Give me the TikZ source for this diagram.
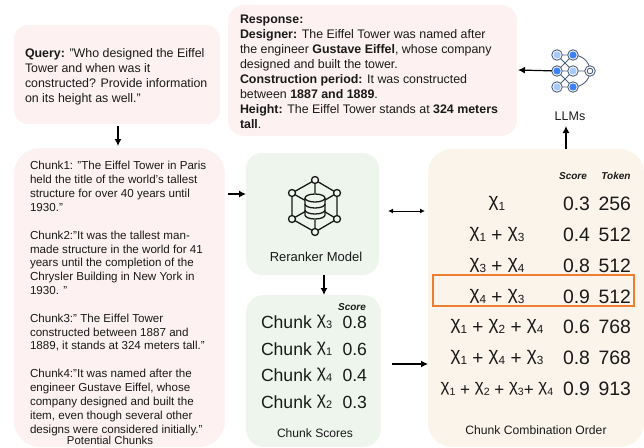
\documentclass[tikz,border=0pt]{standalone}
\usepackage{fontspec}
\setmainfont{Liberation Sans}
\usetikzlibrary{arrows.meta,calc}
\definecolor{pinkbg}{HTML}{FDF1F1}
\definecolor{greenbg}{HTML}{EDF5EC}
\definecolor{creambg}{HTML}{FAF4EA}
\definecolor{orangeb}{HTML}{ED7D31}
\definecolor{ink}{HTML}{1A1A1A}
\definecolor{netring}{HTML}{4F5F7E}
\definecolor{netlight}{HTML}{A9C8FB}
\definecolor{netdark}{HTML}{3B82F6}
\newcommand{\fs}[2]{\fontsize{#1pt}{#2pt}\selectfont}
\newcommand{\Xc}[1]{\raisebox{.2em}{χ}\raisebox{-0.02em}{\scalebox{.62}{#1}}}
\tikzset{
  x=1pt,y=-1pt,
  panel/.style={inner sep=0pt,outer sep=0pt,rounded corners=#1},
  pinkpanel/.style={panel=#1,fill=pinkbg},
  greenpanel/.style={panel=#1,fill=greenbg},
  creampanel/.style={panel=#1,fill=creambg},
  para/.style={inner sep=0pt,outer sep=0pt,anchor=north west,align=left,text=ink},
  lbl/.style={inner sep=0pt,outer sep=0pt,text=ink,anchor=center},
  num/.style={inner sep=0pt,outer sep=0pt,text=ink,anchor=base east},
  arr/.style={draw=black,line width=1.2pt,-{Latex[length=7pt,width=7pt]}},
  darr/.style={draw=black,line width=1pt,{Latex[length=5pt,width=5pt]}-{Latex[length=5pt,width=5pt]}},
  hub/.style={circle,draw=black!90,line width=1.3pt,fill=greenbg,minimum size=7pt,inner sep=0pt,outer sep=0pt},
  netl/.style={circle,draw=netring,line width=.9pt,fill=white,minimum size=10.5pt,inner sep=0pt,outer sep=0pt,path picture={\fill[netlight] (path picture bounding box.center) circle (3.6pt);}},
  netd/.style={circle,draw=netring,line width=.9pt,fill=white,minimum size=10.5pt,inner sep=0pt,outer sep=0pt,path picture={\fill[netdark] (path picture bounding box.center) circle (3.6pt);}},
  neto/.style={circle,draw=netring,line width=.9pt,fill=white,minimum size=10.5pt,inner sep=0pt,outer sep=0pt},
}
\begin{document}
\begin{tikzpicture}
\useasboundingbox (0,0) rectangle (644,447);
% panels
\path[pinkpanel=14pt] (14,25) rectangle (220,124);
\node[inner sep=0pt,outer sep=0pt,minimum width=206pt,minimum height=99pt] (query) at (117,74.5) {};
\path[pinkpanel=16pt] (228,5) rectangle (517,136);
\node[inner sep=0pt,outer sep=0pt,minimum width=289pt,minimum height=131pt] (resp) at (372.5,70.5) {};
\path[pinkpanel=26pt] (14,148) rectangle (225,447);
\node[inner sep=0pt,outer sep=0pt,minimum width=211pt,minimum height=299pt] (chunks) at (119.5,297.5) {};
\path[greenpanel=16pt] (246,153) rectangle (379,275);
\node[inner sep=0pt,outer sep=0pt,minimum width=133pt,minimum height=122pt] (rerank) at (312.5,214) {};
\path[greenpanel=18pt] (246,295) rectangle (381,447);
\node[inner sep=0pt,outer sep=0pt,minimum width=135pt,minimum height=152pt] (scores) at (313.5,371) {};
\path[creampanel=24pt] (428,149) rectangle (644,447);
\node[inner sep=0pt,outer sep=0pt,minimum width=216pt,minimum height=298pt] (combo) at (536,298) {};
% texts
\node[para,font=\fs{12.4}{15}] (qtext) at (25,49) {\textbf{Query:} "Who designed the Eiffel\\Tower and when was it\\constructed? Provide information\\on its height as well."};
\node[para,font=\fs{12.4}{15}] (rtext) at (240,15) {\textbf{Response:}\\\textbf{Designer:} The Eiffel Tower was named after\\the engineer \textbf{Gustave Eiffel}, whose company\\designed and built the tower.\\\textbf{Construction period:} It was constructed\\between \textbf{1887 and 1889}.\\\textbf{Height:} The Eiffel Tower stands at \textbf{324 meters}\\\textbf{tall}.};
\node[para,font=\fs{11.6}{13.85}] (ctext) at (30,161.5) {Chunk1: "The Eiffel Tower in Paris\\held the title of the world's tallest\\structure for over 40 years until\\1930."\\\mbox{}\\Chunk2:"It was the tallest man-\\made structure in the world for 41\\years until the completion of the\\Chrysler Building in New York in\\1930. "\\\mbox{}\\Chunk3:" The Eiffel Tower\\constructed between 1887 and\\1889, it stands at 324 meters tall."\\\mbox{}\\Chunk4:"It was named after the\\engineer Gustave Eiffel, whose\\company designed and built the\\item, even though several other\\designs were considered initially."};
\node[lbl,font=\fs{11.4}{13}] (clabel) at (110,440.8) {Potential Chunks};
\node[lbl,font=\fs{13}{15}] (rlabel) at (316,257) {Reranker Model};
\node[lbl,font=\fs{12.1}{14}] (slabel) at (315,433) {Chunk Scores};
\node[lbl,font=\fs{12.15}{14}] (olabel) at (536,430) {Chunk Combination Order};
\node[lbl,font=\fs{12.5}{14}] (llabel) at (570,116) {LLMs};
% chunk scores
\node[lbl,font=\fs{10}{11}] (shead) at (352,307) {\textbf{\textit{Score}}};
\foreach \nm/\lab/\val/\yy in {s1/3/0.8/328,s2/1/0.6/355,s3/4/0.4/381,s4/2/0.3/408}{
  \node[inner sep=0pt,outer sep=0pt,text=ink,anchor=base west,font=\fs{17.6}{20}] (\nm a) at (261,\yy) {Chunk \Xc{\lab}};
  \node[num,font=\fs{17.6}{20}] (\nm b) at (367,\yy) {\val};
}
% combination table
\node[lbl,font=\fs{10}{11}] (thead1) at (573,176) {\textbf{\textit{Score}}};
\node[lbl,font=\fs{10}{11}] (thead2) at (616,176) {\textbf{\textit{Token}}};
\foreach \nm/\sz/\form/\sc/\tk/\yy in {
  r1/19/\Xc{1}/0.3/256/210,
  r2/19/\Xc{1} + \Xc{3}/0.4/512/241,
  r3/19/\Xc{3} + \Xc{4}/0.8/512/272,
  r4/19/\Xc{4} + \Xc{3}/0.9/512/303,
  r5/19/\Xc{1} + \Xc{2} + \Xc{4}/0.6/768/333,
  r6/19/\Xc{1} + \Xc{4} + \Xc{3}/0.8/768/364,
  r7/17/\Xc{1} + \Xc{2} + \Xc{3}+ \Xc{4}/0.9/913/395}{
  \node[inner sep=0pt,outer sep=0pt,text=ink,anchor=base,font=\fs{\sz}{22}] (\nm a) at (497,\yy) {\form};
  \node[num,font=\fs{19.4}{22}] (\nm b) at (590,\yy) {\sc};
  \node[num,font=\fs{19.4}{22}] (\nm c) at (631,\yy) {\tk};
}
\draw[draw=orangeb,line width=1.4pt] (433,275) rectangle (634,306);
% reranker icon
\node[hub] (h1) at (315,180) {};
\node[hub] (h2) at (337,193) {};
\node[hub] (h3) at (337,219) {};
\node[hub] (h4) at (315,232) {};
\node[hub] (h5) at (292,219) {};
\node[hub] (h6) at (292,193) {};
\coordinate (cyl) at (315,206);
\begin{scope}[line width=1.3pt,draw=black!90]
\draw (h1)--(h2)--(h3)--(h4)--(h5)--(h6)--(h1);
\draw (h1)--(cyl) (h4)--(cyl) (h2)--(cyl) (h3)--(cyl) (h5)--(cyl) (h6)--(cyl);
\fill[greenbg] (305,197) rectangle (325,216);
\fill[greenbg] (315,197) ellipse (10pt and 4pt) (315,216) ellipse (10pt and 4pt);
\draw (315,198) ellipse (10pt and 4pt);
\draw (305,198) -- (305,215) arc[start angle=180,delta angle=180,x radius=10pt,y radius=4pt] -- (325,198);
\draw (305,204) arc[start angle=180,delta angle=180,x radius=10pt,y radius=4pt];
\draw (305,210) arc[start angle=180,delta angle=180,x radius=10pt,y radius=4pt];
\end{scope}
% LLM network icon
\coordinate (n1) at (557,55);\coordinate (n2) at (573,55);
\coordinate (n3) at (557,71);\coordinate (n4) at (573,71);
\coordinate (n5) at (557,87);\coordinate (n6) at (573,87);
\coordinate (n7) at (590,71);
\begin{scope}[draw=netring,line width=.9pt]
\draw (n1)--(n2) (n1)--(n4) (n3)--(n2) (n3)--(n4) (n3)--(n6) (n5)--(n4) (n5)--(n6) (n4)--(n7);
\draw (n2) to[out=0,in=90] (n7);
\draw (n6) to[out=0,in=-90] (n7);
\end{scope}
\node[netl] (c1) at (n1) {};
\node[netd] (c2) at (n2) {};
\node[netd] (c3) at (n3) {};
\node[netl] (c4) at (n4) {};
\node[netl] (c5) at (n5) {};
\node[netd] (c6) at (n6) {};
\node[neto] (c7) at (n7) {};
\draw[netring,line width=.9pt] (n7) circle (2.8pt);
% connectors
\coordinate (rtip) at (518,70);
\coordinate (lltip) at (566,126);
\draw[arr] ($(query.south)+(1,2)$) -- ($(query.south)+(1,22)$);
\draw[arr] ($(chunks.east)+(3,-103.5)$) -- ($(rerank.west)+(0,-20)$);
\draw[darr] ($(rerank.east)+(9,-3)$) -- ($(combo.west)+(-3,-87)$);
\draw[arr] ($(rerank.south)+(11.5,0)$) -- ($(scores.north)+(10.5,0)$);
\draw[arr] ($(scores.east)+(11,-7)$) -- ($(combo.west)+(0,66)$);
\draw[arr] ($(combo.north)+(30,0)$) -- (lltip);
\draw[arr] (c3) -- (rtip);
\end{tikzpicture}
\end{document}
